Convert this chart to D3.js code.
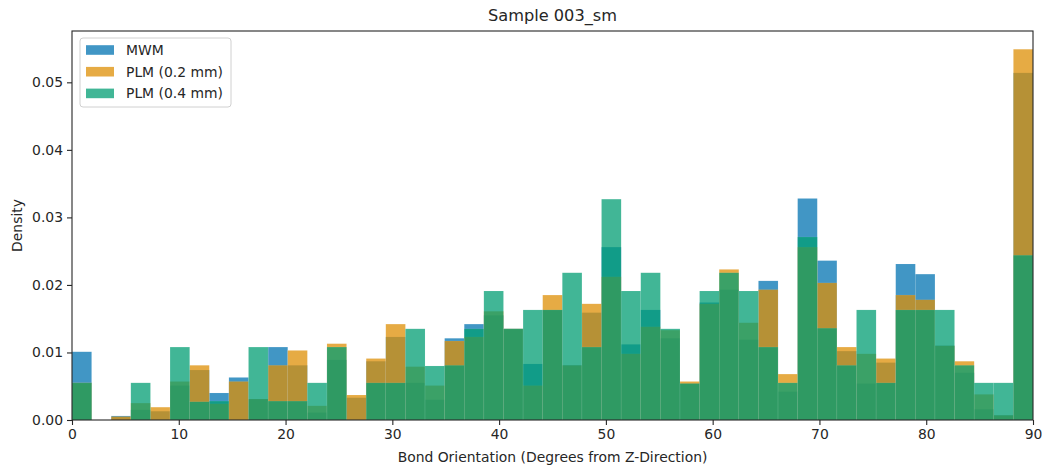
<!DOCTYPE html>
<html>
<head>
<meta charset="utf-8">
<script src="https://cdn.jsdelivr.net/npm/d3@7"></script>
<style>
  html, body { margin: 0; padding: 0; background: #fff; }
  svg { display: block; font-family: "DejaVu Sans", sans-serif; }
</style>
</head>
<body>
<svg id="chart" width="1042" height="467"></svg>
<script>
// ---- data ----
const seriesNames = ["MWM", "PLM (0.2 mm)", "PLM (0.4 mm)"];
const seriesColors = ["#0173b2", "#de8f05", "#029e73"];
const binCount = 49;
const xMin = 0, xMax = 90;

const mwm = [0.0101, 0, 0.0006, 0.0015, 0.0013, 0.0051, 0.0074, 0.0040, 0.0063, 0.0031,
  0.0108, 0.0081, 0.0011, 0.0089, 0.0033, 0.0087, 0.0123, 0.0055, 0.0030, 0.0121,
  0.0142, 0.0155, 0.0135, 0.0083, 0.0163, 0.0081, 0.0159, 0.0256, 0.0112, 0.0163,
  0.0121, 0.0054, 0.0174, 0.0193, 0.0119, 0.0206, 0.0042, 0.0328, 0.0236, 0.0102,
  0.0054, 0.0085, 0.0231, 0.0216, 0.0110, 0.0070, 0.0016, 0.0007, 0.0514];
const plm02 = [0.0055, 0, 0.0005, 0.0025, 0.0019, 0.0057, 0.0081, 0.0024, 0.0057, 0.0031,
  0.0081, 0.0103, 0.0021, 0.0113, 0.0037, 0.0091, 0.0142, 0.0079, 0.0051, 0.0117,
  0.0123, 0.0161, 0.0135, 0.0051, 0.0185, 0.0081, 0.0172, 0.0212, 0.0098, 0.0138,
  0.0133, 0.0057, 0.0172, 0.0223, 0.0144, 0.0193, 0.0068, 0.0256, 0.0203, 0.0108,
  0.0098, 0.0091, 0.0185, 0.0178, 0.0110, 0.0087, 0.0038, 0.0007, 0.0549];
const plm04 = [0.0055, 0, 0, 0.0055, 0, 0.0108, 0.0027, 0.0028, 0, 0.0108,
  0.0028, 0.0028, 0.0055, 0.0108, 0, 0.0055, 0.0055, 0.0135, 0.0080, 0.0081,
  0.0135, 0.0191, 0.0135, 0.0163, 0.0163, 0.0218, 0.0108, 0.0327, 0.0191, 0.0218,
  0.0135, 0.0054, 0.0191, 0.0218, 0.0191, 0.0108, 0.0055, 0.0271, 0.0136, 0.0081,
  0.0163, 0.0055, 0.0163, 0.0163, 0.0163, 0.0081, 0.0055, 0.0055, 0.0244];
const xTicks = [0, 10, 20, 30, 40, 50, 60, 70, 80, 90];
const yTicks = [0, 0.01, 0.02, 0.03, 0.04, 0.05];
const titleText = "Sample 003_sm";
const xLabel = "Bond Orientation (Degrees from Z-Direction)";
const yLabel = "Density";

// ---- layout ----
const svg = d3.select("#chart");
const margin = { left: 72, right: 9, top: 31, bottom: 47 };
const W = 1042, H = 467;
const x = d3.scaleLinear().domain([xMin, xMax]).range([margin.left, W - margin.right]);
const y = d3.scaleLinear().domain([0, 0.0576]).range([H - margin.bottom, margin.top]);

const binW = (xMax - xMin) / binCount;
const allSeries = [mwm, plm02, plm04];

const g = svg.append("g");
allSeries.forEach((vals, si) => {
  g.append("g").selectAll("rect").data(vals).join("rect")
    .attr("x", (d, i) => x(xMin + i * binW))
    .attr("width", (d, i) => x(xMin + (i + 1) * binW) - x(xMin + i * binW))
    .attr("y", d => y(d))
    .attr("height", d => y(0) - y(d))
    .attr("fill", seriesColors[si])
    .attr("fill-opacity", 0.75)
    .attr("stroke", d => d > 0 ? "#ffffff" : "none")
    .attr("stroke-opacity", 0.15)
    .attr("stroke-width", 0.5);
});

// axes
const xAxis = d3.axisBottom(x).tickValues(xTicks).tickFormat(d3.format("d")).tickSize(5).tickPadding(4);
const yAxis = d3.axisLeft(y).tickValues(yTicks).tickFormat(d3.format(".2f")).tickSize(5).tickPadding(4);

const gx = svg.append("g").attr("transform", `translate(0,${y(0)})`).call(xAxis);
const gy = svg.append("g").attr("transform", `translate(${margin.left},0)`).call(yAxis);
[gx, gy].forEach(a => {
  a.select(".domain").remove();
  a.selectAll("text").attr("font-size", 13.9).attr("fill", "#262626").attr("font-family", "DejaVu Sans");
  a.selectAll("line").attr("stroke", "#262626").attr("stroke-width", 1.1);
});

// frame
svg.append("rect")
  .attr("x", margin.left).attr("y", margin.top)
  .attr("width", W - margin.right - margin.left)
  .attr("height", y(0) - margin.top)
  .attr("fill", "none").attr("stroke", "#262626").attr("stroke-width", 1.1);

// title & labels
svg.append("text").attr("x", (margin.left + W - margin.right) / 2).attr("y", 21)
  .attr("text-anchor", "middle").attr("font-size", 16.2).attr("fill", "#262626").text(titleText);
svg.append("text").attr("x", (margin.left + W - margin.right) / 2).attr("y", 462)
  .attr("text-anchor", "middle").attr("font-size", 13.9).attr("fill", "#262626").text(xLabel);
svg.append("text").attr("transform", `translate(22,${(margin.top + y(0)) / 2}) rotate(-90)`)
  .attr("text-anchor", "middle").attr("font-size", 13.9).attr("fill", "#262626").text(yLabel);

// legend
const lg = svg.append("g").attr("transform", "translate(80,38)");
lg.append("rect").attr("width", 151).attr("height", 69).attr("rx", 3)
  .attr("fill", "#fff").attr("fill-opacity", 0.8).attr("stroke", "#d0d0d0").attr("stroke-width", 1);
seriesNames.forEach((name, i) => {
  const cy = 12 + i * 21.7;
  lg.append("rect").attr("x", 6).attr("y", cy - 4.8).attr("width", 28).attr("height", 9.6)
    .attr("fill", seriesColors[i]).attr("fill-opacity", 0.75);
  lg.append("text").attr("x", 46).attr("y", cy + 5).attr("font-size", 13.9)
    .attr("fill", "#262626").text(name);
});
</script>
</body>
</html>
